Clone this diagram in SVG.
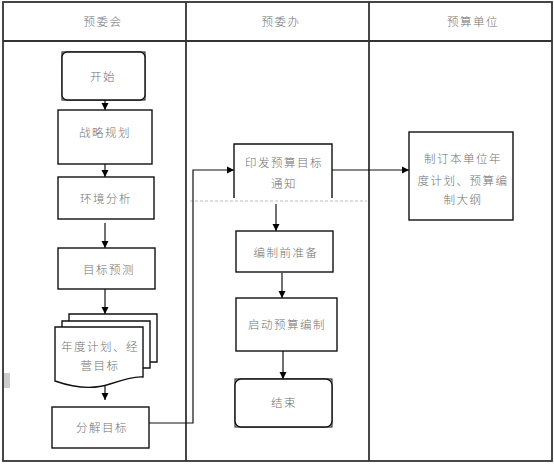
<svg xmlns="http://www.w3.org/2000/svg" width="554" height="464" viewBox="0 0 554 464">
<defs>
<marker id="ah" markerWidth="8" markerHeight="8" refX="7" refY="4" orient="auto" markerUnits="userSpaceOnUse">
<path d="M0,0.5 L7,4 L0,7.5 Z" fill="#000"/>
</marker>
<style>
.lane{fill:none;stroke:#333;stroke-width:1.8}
.box{fill:#fff;stroke:#111;stroke-width:1.4}
.thin{fill:none;stroke:#111;stroke-width:1}
.t{font-family:"Noto Sans CJK SC","Noto Sans",sans-serif;font-size:11.5px;font-weight:300;fill:#707070;text-anchor:middle;letter-spacing:1.5px}
.c{fill:none;stroke:#111;stroke-width:1.2}
</style>
</defs>
<rect width="554" height="464" fill="#fff"/>
<g id="lanes">
<rect class="lane" x="3" y="2" width="549" height="459"/>
<line class="lane" x1="3" y1="41" x2="552" y2="41"/>
<line class="lane" x1="186" y1="2" x2="186" y2="461"/>
<line class="lane" x1="369" y1="2" x2="369" y2="461"/>
<text class="t" x="103" y="26">预委会</text>
<text class="t" x="281" y="26">预委办</text>
<text class="t" x="473" y="26">预算单位</text>
<rect x="4" y="373" width="6" height="15" fill="#ccc"/>
<line x1="190" y1="201" x2="367" y2="201" stroke="#bbb" stroke-width="1" stroke-dasharray="3,2"/>
</g>
<g id="connectors">
<line class="c" x1="105" y1="87" x2="105" y2="110" marker-end="url(#ah)"/>
<line class="c" x1="105" y1="152" x2="105" y2="177" marker-end="url(#ah)"/>
<line class="c" x1="105" y1="223" x2="105" y2="248" marker-end="url(#ah)"/>
<line class="c" x1="105" y1="289" x2="105" y2="314" marker-end="url(#ah)"/>
<line class="c" x1="105" y1="382" x2="105" y2="400" marker-end="url(#ah)"/>
<polyline class="c" points="149,423 193,423 193,170 234,170" marker-end="url(#ah)"/>
<line class="c" x1="332" y1="170" x2="409" y2="170" marker-end="url(#ah)"/>
<line class="c" x1="276" y1="204" x2="276" y2="231" marker-end="url(#ah)"/>
<line class="c" x1="282" y1="273" x2="282" y2="298" marker-end="url(#ah)"/>
<line class="c" x1="283" y1="351" x2="283" y2="379" marker-end="url(#ah)"/>
</g>
<g id="start">
<rect class="thin" x="62" y="52" width="83" height="48"/>
<rect class="box" x="62" y="52" width="83" height="48" rx="5" fill="none"/>
<text class="t" x="103" y="81">开始</text>
</g>
<g id="strategy">
<rect class="box" x="58" y="110" width="94" height="54"/>
<text class="t" x="105" y="137">战略规划</text>
</g>
<g id="env">
<rect class="box" x="58" y="177" width="96" height="42"/>
<text class="t" x="106" y="203">环境分析</text>
</g>
<g id="forecast">
<rect class="box" x="58" y="248" width="97" height="41"/>
<text class="t" x="109" y="274">目标预测</text>
</g>
<g id="plan">
<path class="box" d="M69,321 V314 H157 V362 H150"/>
<path class="box" d="M62,327 V321 H150 V368 H143"/>
<path class="box" d="M55,327 H143 V377 C135,376 125,379 110,384 C95,389 75,388 55,381 Z"/>
<text class="t" x="100" y="351">年度计划、经</text>
<text class="t" x="100" y="370">营目标</text>
</g>
<g id="decompose">
<rect class="box" x="52" y="407" width="97" height="41"/>
<text class="t" x="102" y="432">分解目标</text>
</g>
<g id="notice">
<path class="box" d="M234,198 V144 H332 V198"/>
<text class="t" x="284" y="167">印发预算目标</text>
<text class="t" x="284" y="188">通知</text>
</g>
<g id="prep">
<rect class="box" x="236" y="231" width="97" height="41"/>
<text class="t" x="286" y="257">编制前准备</text>
</g>
<g id="launch">
<rect class="box" x="236" y="298" width="101" height="53"/>
<text class="t" x="287" y="329">启动预算编制</text>
</g>
<g id="end">
<rect class="thin" x="235" y="379" width="97" height="48"/>
<rect class="box" x="235" y="379" width="97" height="48" rx="6" fill="none"/>
<text class="t" x="284" y="407">结束</text>
</g>
<g id="unit">
<rect class="box" x="409" y="132" width="104" height="88"/>
<text class="t" x="463" y="163">制订本单位年</text>
<text class="t" x="463" y="185">度计划、预算编</text>
<text class="t" x="463" y="204">制大纲</text>
</g>
</svg>
